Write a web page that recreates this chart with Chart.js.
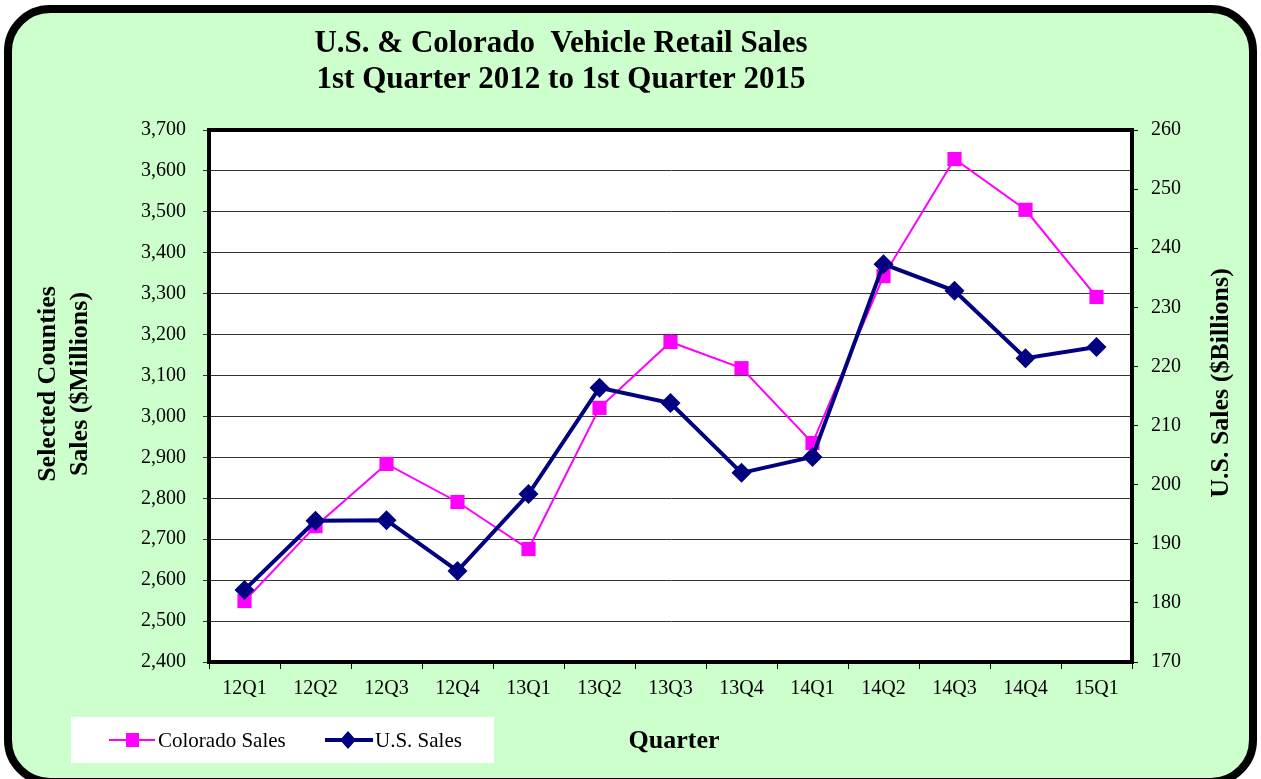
<!DOCTYPE html>
<html>
<head>
<meta charset="utf-8">
<script src="https://cdn.jsdelivr.net/npm/chart.js@4"></script>
<style>
html,body{margin:0;padding:0;background:#fff;}
#wrap{width:1261px;height:779px;position:relative;}
</style>
</head>
<body>
<div id="wrap"><canvas id="c" width="1261" height="779"></canvas></div>
<script>
const quarters = ['12Q1','12Q2','12Q3','12Q4','13Q1','13Q2','13Q3','13Q4','14Q1','14Q2','14Q3','14Q4','15Q1'];
const coloradoSales = [2549, 2732, 2884, 2791, 2676, 3021, 3182, 3118, 2935, 3343, 3629, 3505, 3292];
const usSales = [182.2, 193.9, 194.0, 185.4, 198.4, 216.4, 213.8, 202.0, 204.7, 237.3, 232.8, 221.4, 223.3];
const titleLines = ['U.S. & Colorado  Vehicle Retail Sales', '1st Quarter 2012 to 1st Quarter 2015'];
const leftTitle = ['Selected Counties', 'Sales ($Millions)'];
const rightTitle = 'U.S. Sales ($Billions)';
const xTitle = 'Quarter';
const legendLabels = ['Colorado Sales', 'U.S. Sales'];

const SERIF = "'Liberation Serif', 'Times New Roman', serif";
const PINK = '#FF00FF', NAVY = '#000080';

function rr(ctx, x, y, w, h, r) {
  ctx.beginPath();
  ctx.moveTo(x + r, y);
  ctx.lineTo(x + w - r, y);
  ctx.arcTo(x + w, y, x + w, y + r, r);
  ctx.lineTo(x + w, y + h - r);
  ctx.arcTo(x + w, y + h, x + w - r, y + h, r);
  ctx.lineTo(x + r, y + h);
  ctx.arcTo(x, y + h, x, y + h - r, r);
  ctx.lineTo(x, y + r);
  ctx.arcTo(x, y, x + r, y, r);
  ctx.closePath();
}

const decor = {
  id: 'decor',
  beforeDraw(chart) {
    const ctx = chart.ctx, a = chart.chartArea;
    ctx.save();
    ctx.fillStyle = '#fff';
    ctx.fillRect(0, 0, chart.width, chart.height);
    rr(ctx, 8, 9, 1245, 773, 42);
    ctx.fillStyle = '#CCFFCC';
    ctx.fill();
    ctx.lineWidth = 8;
    ctx.strokeStyle = '#000';
    ctx.stroke();
    ctx.fillStyle = '#fff';
    ctx.fillRect(a.left, a.top, a.right - a.left, a.bottom - a.top);
    ctx.restore();
  },
  beforeDatasetsDraw(chart) {
    const ctx = chart.ctx, a = chart.chartArea;
    ctx.save();
    ctx.lineWidth = 4;
    ctx.strokeStyle = '#000';
    ctx.strokeRect(a.left, a.top, a.right - a.left, a.bottom - a.top);
    ctx.restore();
  },
  afterDraw(chart) {
    const ctx = chart.ctx;
    ctx.save();
    ctx.fillStyle = '#000';
    ctx.textAlign = 'center';
    ctx.textBaseline = 'middle';
    ctx.font = 'bold 31px ' + SERIF;
    ctx.fillText(titleLines[0], 561, 44);
    ctx.fillText(titleLines[1], 561, 80);

    ctx.font = 'bold 26px ' + SERIF;
    ctx.fillText(xTitle, 674, 741);

    ctx.save();
    ctx.translate(48, 384);
    ctx.rotate(-Math.PI / 2);
    ctx.fillText(leftTitle[0], 0, 0);
    ctx.restore();
    ctx.save();
    ctx.translate(80, 384);
    ctx.rotate(-Math.PI / 2);
    ctx.fillText(leftTitle[1], 0, 0);
    ctx.restore();
    ctx.save();
    ctx.translate(1221, 383);
    ctx.rotate(-Math.PI / 2);
    ctx.fillText(rightTitle, 0, 0);
    ctx.restore();

    // legend
    ctx.fillStyle = '#fff';
    ctx.fillRect(71, 717, 423, 46);
    const ly = 740;
    ctx.lineWidth = 2;
    ctx.strokeStyle = PINK;
    ctx.beginPath(); ctx.moveTo(109, ly); ctx.lineTo(155, ly); ctx.stroke();
    ctx.fillStyle = PINK;
    ctx.fillRect(126, ly - 7, 13, 14);
    ctx.lineWidth = 4;
    ctx.strokeStyle = NAVY;
    ctx.beginPath(); ctx.moveTo(325, ly); ctx.lineTo(373, ly); ctx.stroke();
    ctx.fillStyle = NAVY;
    ctx.beginPath();
    ctx.moveTo(348, ly - 9); ctx.lineTo(356, ly); ctx.lineTo(348, ly + 9); ctx.lineTo(340, ly);
    ctx.closePath(); ctx.fill();
    ctx.fillStyle = '#000';
    ctx.textAlign = 'left';
    ctx.font = '21px ' + SERIF;
    ctx.fillText(legendLabels[0], 158, ly + 1);
    ctx.fillText(legendLabels[1], 375, ly + 1);
    ctx.restore();
  }
};

new Chart(document.getElementById('c'), {
  type: 'line',
  data: {
    labels: quarters,
    datasets: [
      {
        label: legendLabels[0],
        data: coloradoSales,
        yAxisID: 'y',
        borderColor: PINK,
        backgroundColor: PINK,
        borderWidth: 2,
        pointStyle: 'rect',
        pointRadius: 10,
        pointBorderWidth: 0,
        order: 1,
        tension: 0
      },
      {
        label: legendLabels[1],
        data: usSales,
        yAxisID: 'y1',
        borderColor: NAVY,
        backgroundColor: NAVY,
        borderWidth: 4,
        pointStyle: 'rectRot',
        pointRadius: 10,
        pointBorderWidth: 0,
        order: 0,
        tension: 0
      }
    ]
  },
  options: {
    responsive: false,
    animation: false,
    events: [],
    layout: { padding: { left: 0, right: 0, top: 130, bottom: 0 } },
    plugins: { legend: { display: false }, title: { display: false }, tooltip: { enabled: false } },
    scales: {
      x: {
        type: 'category',
        offset: true,
        grid: { display: true, drawOnChartArea: false, offset: true, color: '#000', lineWidth: 1, tickLength: 7 },
        border: { display: true, color: '#000', width: 4 },
        ticks: { color: '#000', font: { family: SERIF, size: 20 }, padding: 8, maxRotation: 0, autoSkip: false },
        afterFit(s) { s.height = 117; }
      },
      y: {
        position: 'left',
        min: 2400, max: 3700,
        grid: { color: '#333', lineWidth: 1, tickLength: 6 },
        border: { display: true, color: '#000', width: 4 },
        ticks: {
          stepSize: 100, color: '#000', padding: 17,
          font: { family: SERIF, size: 20 },
          callback: v => v.toLocaleString('en-US')
        },
        afterFit(s) { s.width = 209; }
      },
      y1: {
        position: 'right',
        min: 170, max: 260,
        grid: { drawOnChartArea: false, color: '#000', tickLength: 6 },
        border: { display: true, color: '#000', width: 4 },
        ticks: { stepSize: 10, color: '#000', padding: 13, font: { family: SERIF, size: 20 } },
        afterFit(s) { s.width = 129; }
      }
    }
  },
  plugins: [decor]
});
</script>
</body>
</html>
